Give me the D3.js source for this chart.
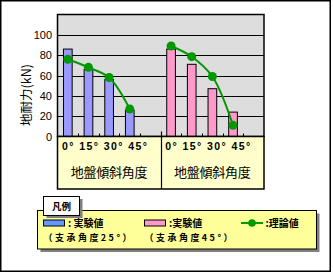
<!DOCTYPE html>
<html><head><meta charset="utf-8">
<script src="https://cdn.jsdelivr.net/npm/d3@7"></script>
<style>html,body{margin:0;padding:0;background:#fff;}svg{display:block;}</style>
</head><body>
<script>
// ---- data ----
const groups = ["25", "45"];
const categories = ["0°", "15°", "30°", "45°", ""];
const tickLabels = ["0°", "15°", "30°", "45°"];
const exp25 = [86, 66, 56, 26];
const exp45 = [86, 71, 47, 24];
const theory25 = [76, 68, 58, 27];
const theory45 = [89, 78.5, 59, 11];
const yTicks = [0, 20, 40, 60, 80, 100];
const yTitle = "地耐力(kN)";
const xTitle = "地盤傾斜角度";
const legendTitle = "凡例";
const legendLabels = [": 実験値", ":実験値", ":理論値"];
const legendSub = ["（支承角度25°）", "（支承角度45°）"];

const W = 333, H = 273;
const svg = d3.select("body").append("svg").attr("width", W).attr("height", H);
const fontJP = "'Noto Sans CJK JP','Noto Sans',sans-serif";
const fontNum = "'Liberation Sans',Arial,sans-serif";

// frame
svg.append("rect").attr("x", 0.75).attr("y", 0.75).attr("width", 329.5).attr("height", 270.5)
  .attr("fill", "#fff").attr("stroke", "#000").attr("stroke-width", 1.5);

const plot = {l: 57.5, r: 264, t: 14.5, b: 136.5};
const y = d3.scaleLinear().domain([0, 120]).range([plot.b, plot.t]);
const xg = d3.scaleBand().domain(groups).range([plot.l, plot.r]);
const xc = d3.scaleBand().domain(categories).range([0, xg.bandwidth()]);
const barW = xc.bandwidth() * 0.42;

// plot background
svg.append("rect").attr("x", plot.l).attr("y", plot.t).attr("width", plot.r - plot.l).attr("height", plot.b - plot.t)
  .attr("fill", "#DDDDDD");
// gridlines
svg.selectAll(".grid").data(yTicks.filter(d => d > 0)).join("line")
  .attr("x1", plot.l).attr("x2", plot.r).attr("y1", d => Math.round(y(d)) + 0.5).attr("y2", d => Math.round(y(d)) + 0.5)
  .attr("stroke", "#000").attr("stroke-width", 1);

// y labels
svg.selectAll(".ylab").data(yTicks).join("text")
  .attr("x", 52).attr("y", d => y(d) + 4).attr("text-anchor", "end")
  .attr("font-family", fontNum).attr("font-size", 11).attr("fill", "#000").text(d => d);
svg.append("text").attr("transform", `translate(31,95) rotate(-90)`).attr("text-anchor", "middle")
  .attr("font-family", fontJP).attr("font-size", 12.5).attr("fill", "#000").text(yTitle);

const series = [
  {g: "25", bars: exp25, theory: theory25, color: "#9999FF"},
  {g: "45", bars: exp45, theory: theory45, color: "#FF99CC"}
];

// bars
series.forEach(s => {
  svg.append("g").selectAll("rect").data(s.bars).join("rect")
    .attr("x", (d, i) => xg(s.g) + xc(categories[i]) + xc.bandwidth() / 2 - barW / 2)
    .attr("y", d => y(d)).attr("width", barW).attr("height", d => plot.b - y(d))
    .attr("fill", s.color).attr("stroke", "#000").attr("stroke-width", 1);
});

// ticks
series.forEach(s => {
  categories.slice(1).forEach(c => {
    const tx = Math.round(xg(s.g) + xc(c)) + 0.5;
    svg.append("line").attr("x1", tx).attr("x2", tx).attr("y1", plot.b - 3).attr("y2", plot.b)
      .attr("stroke", "#000");
  });
});

// plot border
svg.append("rect").attr("x", plot.l).attr("y", plot.t).attr("width", plot.r - plot.l).attr("height", plot.b - plot.t)
  .attr("fill", "none").attr("stroke", "#000").attr("stroke-width", 1.5);

// theory lines
const line = d3.line().curve(d3.curveCatmullRom.alpha(0.5));
series.forEach(s => {
  const pts = s.theory.map((d, i) => [xg(s.g) + xc(categories[i]) + xc.bandwidth() / 2, y(d)]);
  svg.append("path").attr("d", line(pts)).attr("fill", "none").attr("stroke", "#009900").attr("stroke-width", 2);
  svg.append("g").selectAll("circle").data(pts).join("circle")
    .attr("cx", d => d[0]).attr("cy", d => d[1]).attr("r", 4.5).attr("fill", "#009900");
});

// x-axis box
const box = {t: 136.5, b: 189};
svg.append("rect").attr("x", plot.l).attr("y", box.t).attr("width", plot.r - plot.l).attr("height", box.b - box.t)
  .attr("fill", "#FFFFCC").attr("stroke", "#000").attr("stroke-width", 1.5);
const divX = Math.round(xg("45")) + 0.5;
svg.append("line").attr("x1", divX).attr("x2", divX).attr("y1", plot.b - 5).attr("y2", box.b)
  .attr("stroke", "#000").attr("stroke-width", 1.2);
groups.forEach(g => {
  svg.append("text").attr("x", xg(g) + 4.5).attr("y", 150)
    .attr("font-family", fontNum).attr("font-weight", "bold").attr("font-size", 10.5)
    .attr("textLength", 85).attr("lengthAdjust", "spacing").text(tickLabels.join(" "));
  svg.append("text").attr("x", xg(g) + xg.bandwidth() / 2).attr("y", 177).attr("text-anchor", "middle")
    .attr("font-family", fontJP).attr("font-size", 13).attr("textLength", 77).attr("lengthAdjust", "spacing")
    .text(xTitle);
});

// legend
const lg = {x: 37.5, y: 210.5, w: 279, h: 38.5};
svg.append("rect").attr("x", lg.x + 3).attr("y", lg.y + 3).attr("width", lg.w).attr("height", lg.h).attr("fill", "#808080");
svg.append("rect").attr("x", lg.x).attr("y", lg.y).attr("width", lg.w).attr("height", lg.h)
  .attr("fill", "#FFFF99").attr("stroke", "#000").attr("stroke-width", 1);
// tab
svg.append("rect").attr("x", 46.5).attr("y", 199).attr("width", 36).attr("height", 19).attr("fill", "#808080");
svg.append("rect").attr("x", 43.5).attr("y", 196.5).attr("width", 36).attr("height", 19)
  .attr("fill", "#fff").attr("stroke", "#000").attr("stroke-width", 1);
svg.append("text").attr("x", 61.5).attr("y", 210).attr("text-anchor", "middle")
  .attr("font-family", fontJP).attr("font-weight", "bold").attr("font-size", 9.5).text(legendTitle);

const items = [
  {x: 43.5, type: "bar", color: "#6699FF"},
  {x: 144.5, type: "bar", color: "#FF99CC"},
  {x: 241, type: "line", color: "#009900"}
];
items.forEach((it, i) => {
  if (it.type === "bar") {
    svg.append("rect").attr("x", it.x).attr("y", 220).attr("width", 21).attr("height", 6)
      .attr("fill", it.color).attr("stroke", "#000").attr("stroke-width", 1);
  } else {
    svg.append("line").attr("x1", it.x).attr("x2", it.x + 22).attr("y1", 223).attr("y2", 223)
      .attr("stroke", it.color).attr("stroke-width", 2);
    svg.append("circle").attr("cx", it.x + 11).attr("cy", 223).attr("r", 3.8).attr("fill", it.color);
  }
  svg.append("text").attr("x", it.x + 24.5).attr("y", 227)
    .attr("font-family", fontJP).attr("font-weight", "bold").attr("font-size", 10).text(legendLabels[i]);
  if (i < 2) {
    svg.append("text").attr("x", it.x).attr("y", 240.5)
      .attr("font-family", fontJP).attr("font-weight", "bold").attr("font-size", 9)
      .attr("textLength", 88).attr("lengthAdjust", "spacing").text(legendSub[i]);
  }
});
</script>
</body></html>
